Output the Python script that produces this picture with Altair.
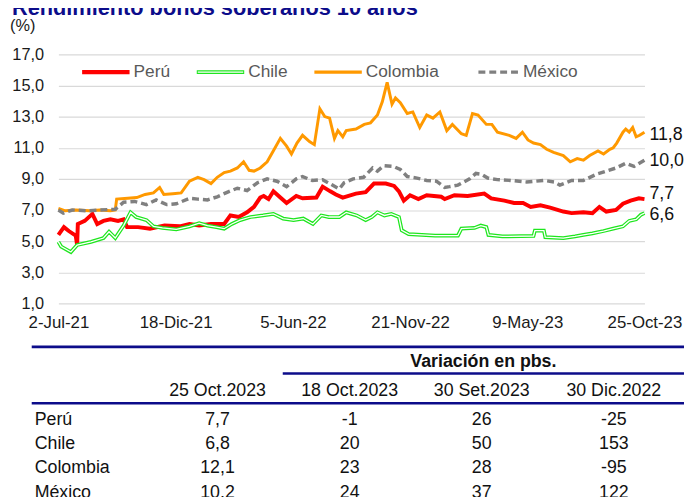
import json
import altair as alt
import pandas as pd

# x = days since 2-Jul-2021
peru_days = [0,8,15,25,27,28,38,49,56,65,75,86,94,99,115,132,153,175,189,203,220,239,248,260,272,282,291,296,303,310,320,329,343,352,372,381,392,400,410,429,443,455,472,484,491,498,507,519,531,552,557,571,590,614,624,643,657,670,681,695,709,728,740,757,770,780,790,804,814,825,837,845]
peru_vals = [5.4,5.9,5.65,5.35,4.75,6.1,6.3,6.75,6.1,6.3,6.4,6.3,6.4,5.9,5.9,5.8,6.0,5.95,6.1,6.0,6.1,6.1,6.65,6.55,6.85,7.2,7.8,7.9,7.7,8.2,7.8,7.45,7.9,7.75,7.8,8.5,8.2,8.0,7.8,8.05,8.15,8.7,8.7,8.55,8.2,7.6,7.95,7.7,7.95,7.85,7.7,7.95,7.9,8.05,7.75,7.6,7.45,7.45,7.2,7.3,7.15,6.9,6.8,6.85,6.8,7.2,6.9,7.0,7.4,7.6,7.75,7.7]

chile_days = [0,4,18,27,47,65,73,82,94,104,112,127,137,150,170,189,203,215,228,239,250,262,277,295,310,324,339,353,367,379,390,405,415,430,443,452,460,470,480,491,495,505,543,576,581,600,609,617,620,640,685,687,700,702,728,745,757,770,786,800,814,823,833,840,845]
chile_vals = [4.95,4.65,4.3,4.75,4.95,5.2,5.6,5.2,6.0,6.85,6.55,6.35,5.95,5.85,5.75,5.95,6.15,6.0,5.9,5.8,6.1,6.35,6.55,6.65,6.75,6.45,6.35,6.45,6.1,6.65,6.55,6.55,6.85,6.65,6.35,6.55,6.85,6.65,6.75,6.55,5.7,5.45,5.35,5.35,5.8,5.85,6.0,5.9,5.4,5.3,5.33,5.67,5.67,5.25,5.2,5.3,5.4,5.5,5.65,5.8,5.95,6.3,6.4,6.7,6.8]

col_days = [0,10,25,45,60,75,82,84,100,113,125,137,146,152,165,177,189,201,210,220,229,239,248,258,267,275,282,291,301,310,320,329,336,344,352,362,369,377,384,391,398,403,410,415,429,441,450,460,467,474,478,481,486,493,503,511,521,531,540,550,560,568,581,588,597,605,617,625,633,650,660,669,677,685,695,704,714,728,738,748,757,766,778,786,795,800,805,814,818,823,828,833,838,845]
col_vals = [7.1,6.95,7.0,6.95,7.0,6.95,7.0,7.7,7.75,7.8,8.0,8.1,8.45,8.0,8.05,8.1,8.85,9.1,8.95,8.7,9.1,9.4,9.5,9.7,10.1,9.55,9.5,9.7,10.1,10.8,11.6,11.1,10.6,11.3,11.8,11.4,11.2,13.5,13.0,12.9,11.6,12.1,11.7,12.1,12.2,12.5,12.6,13.1,13.95,15.2,14.4,13.8,14.2,13.9,13.2,13.3,12.3,13.1,12.9,13.3,12.1,12.5,11.9,11.8,13.2,13.1,12.5,12.5,12.0,11.8,11.6,12.0,11.5,11.3,11.2,10.9,10.7,10.5,10.1,10.3,10.2,10.5,10.8,10.6,10.9,11.0,11.3,12.0,12.2,12.0,12.3,11.7,11.8,12.0]

mex_days = [0,7,20,42,60,82,94,110,127,141,156,170,189,201,215,229,244,258,272,287,301,315,329,343,352,366,381,395,405,412,425,440,453,460,469,483,493,503,517,531,545,557,564,576,593,602,610,619,633,652,675,700,715,723,740,757,776,790,804,818,830,845]
mex_vals = [7.0,6.8,7.0,6.95,7.0,7.05,7.5,7.55,7.35,7.65,7.35,7.4,7.75,7.7,7.65,7.85,8.15,8.4,8.25,8.75,9.0,8.85,8.5,9.0,9.15,8.9,8.95,8.6,8.35,8.75,9.0,9.1,9.7,9.5,9.85,9.8,9.6,9.15,9.05,8.9,8.85,8.45,8.5,8.6,9.0,9.35,9.3,9.05,8.95,8.9,8.8,8.9,8.8,8.6,8.9,8.9,9.3,9.5,9.7,10.0,9.8,10.2]

series_names = ["Perú", "Chile", "Colombia", "México"]
x_tick_days = [0, 169, 338, 507, 676, 845]
x_tick_labels = ["2-Jul-21", "18-Dic-21", "5-Jun-22", "21-Nov-22", "9-May-23", "25-Oct-23"]
y_ticks = [1, 3, 5, 7, 9, 11, 13, 15, 17]

end_label_texts = ["11,8", "10,0", "7,7", "6,6"]
end_label_vals = [11.8, 10.15, 8.05, 6.7]

table_rows = ["Perú", "Chile", "Colombia", "México"]
table_headers = ["25 Oct.2023", "18 Oct.2023", "30 Set.2023", "30 Dic.2022"]
level_2023_10_25 = [7.7, 6.8, 12.1, 10.2]
chg_18oct = [-1, 20, 23, 24]
chg_30set = [26, 50, 28, 37]
chg_30dic = [-25, 153, -95, 122]

FONT = "Liberation Sans, Arial, sans-serif"
RED, GREEN, ORANGE, GREY = "#ff0000", "#1ee61e", "#ff9900", "#808080"
NAVY = "#0c0c8a"
TFS = 18  # table font size

def sdf(days, vals):
    return pd.DataFrame({"day": days, "value": vals})

xs = alt.Scale(domain=[0, 845], nice=False, zero=False)
ys = alt.Scale(domain=[1, 17], nice=False, zero=False)
lbl_expr = json.dumps(x_tick_labels) + "[round(datum.value/169)]"

x_axis = alt.Axis(values=x_tick_days, labelExpr=lbl_expr, grid=False, domain=False, ticks=False,
                  labelPadding=11, labelFontSize=17, labelColor="#1a1a1a", labelFont=FONT,
                  title=None, labelFlush=False, labelOverlap=False)
y_axis = alt.Axis(values=y_ticks, labelExpr="replace(format(datum.value,'.1f'),'.',',')",
                  grid=True, gridColor="#d9d9d9", gridWidth=1.2, domain=False, ticks=False,
                  labelPadding=15, labelFontSize=16.5, labelColor="#1a1a1a", labelFont=FONT, title=None)

X = alt.X("day:Q", scale=xs, axis=x_axis)
Y = alt.Y("value:Q", scale=ys, axis=y_axis)

def line(days, vals, color, width, dash=None):
    kw = dict(color=color, strokeWidth=width, interpolate="linear")
    if dash:
        kw["strokeDash"] = dash
    return alt.Chart(sdf(days, vals)).mark_line(**kw).encode(x=X, y=Y)

peru = line(peru_days, peru_vals, RED, 4)
chile_o = line(chile_days, chile_vals, GREEN, 3.8)
chile_i = line(chile_days, chile_vals, "white", 1.3)
colombia = line(col_days, col_vals, ORANGE, 3)
mexico = line(mex_days, mex_vals, GREY, 3.5, dash=[7, 4])

end_df = pd.DataFrame({"day": [845] * 4, "value": end_label_vals, "t": end_label_texts})
end_labels = alt.Chart(end_df).mark_text(align="left", baseline="middle", dx=5, fontSize=18,
                                         font=FONT, color="#111111").encode(x=X, y=Y, text="t:N")

plot = alt.layer(peru, chile_o, chile_i, colombia, mexico, end_labels)

one = alt.Data(values=[{}])

def txt(s, x, y, size=16, color="#1a1a1a", align="left", weight="normal"):
    return alt.Chart(one).mark_text(text=s, align=align, baseline="middle", fontSize=size,
                                    font=FONT, color=color, fontWeight=weight).encode(
        x=alt.value(x), y=alt.value(y))

def hrule(x1, x2, y, color, w):
    return alt.Chart(one).mark_rule(color=color, strokeWidth=w).encode(
        x=alt.value(x1), x2=alt.value(x2), y=alt.value(y))

# title (partly outside the top), unit label
title = txt("Rendimiento bonos soberanos 10 años", -47, -47, size=22, color=NAVY, weight="bold")
unit = txt("(%)", -49, -29, size=16.5)

# legend
leg = []
leg_specs = [("Perú", 24, 72, RED, 4.5, None), ("Chile", 140, 188, GREEN, 4, None),
             ("Colombia", 259, 307, ORANGE, 3.5, None), ("México", 425, 466, GREY, 3.5, [7, 4])]
for name, a, b, c, w, d in leg_specs:
    kw = dict(color=c, strokeWidth=w)
    if d:
        kw["strokeDash"] = d
    leg.append(alt.Chart(one).mark_rule(**kw).encode(x=alt.value(a), x2=alt.value(b), y=alt.value(18)))
    if name == "Chile":
        leg.append(alt.Chart(one).mark_rule(color="white", strokeWidth=1.4).encode(
            x=alt.value(a + 1), x2=alt.value(b - 1), y=alt.value(18)))
    leg.append(txt(name, b + 4, 18, size=17.5, color="#595959"))

# table
cells = []
for i, r in enumerate(table_rows):
    vals = [f"{level_2023_10_25[i]:.1f}".replace(".", ","), str(chg_18oct[i]), str(chg_30set[i]), str(chg_30dic[i])]
    for h, v in zip(table_headers, vals):
        cells.append({"row": r, "col": h, "t": v})
cells_df = pd.DataFrame(cells)
col_scale = alt.Scale(type="point", domain=table_headers, range=[161, 562], padding=0)
row_scale = alt.Scale(type="point", domain=table_rows, range=[370, 443.5], padding=0)

tbl_cells = alt.Chart(cells_df).mark_text(align="center", baseline="middle", fontSize=TFS,
                                          font=FONT, color="#111111").encode(
    x=alt.X("col:N", scale=col_scale, axis=None), y=alt.Y("row:N", scale=row_scale, axis=None), text="t:N")
tbl_head = alt.Chart(pd.DataFrame({"col": table_headers})).mark_text(
    align="center", baseline="middle", fontSize=TFS, font=FONT, color="#111111").encode(
    x=alt.X("col:N", scale=col_scale, axis=None), y=alt.value(341), text="col:N")
tbl_rows = alt.Chart(pd.DataFrame({"row": table_rows})).mark_text(
    align="left", baseline="middle", fontSize=TFS, font=FONT, color="#111111").encode(
    x=alt.value(-24), y=alt.Y("row:N", scale=row_scale, axis=None), text="row:N")
var_title = txt("Variación en pbs.", 430, 311, size=18, color="#111111", align="center", weight="bold")
r1 = hrule(-27, 633, 296, NAVY, 3)
r2 = hrule(227, 633, 323, NAVY, 2.5)
r3 = hrule(-27, 633, 353, NAVY, 2.5)

chart = alt.layer(plot, title, unit, *leg, r1, var_title, r2, tbl_head, r3, tbl_rows, tbl_cells).resolve_scale(
    x="independent", y="independent"
).properties(
    width=593, height=252,
    autosize=alt.AutoSizeParams(type="none"),
    padding={"left": 51, "top": 44, "right": 40, "bottom": 193},
    background="white",
).configure_view(stroke=None)

chart.save("out.html", embed_options={"renderer": "svg", "actions": False})
